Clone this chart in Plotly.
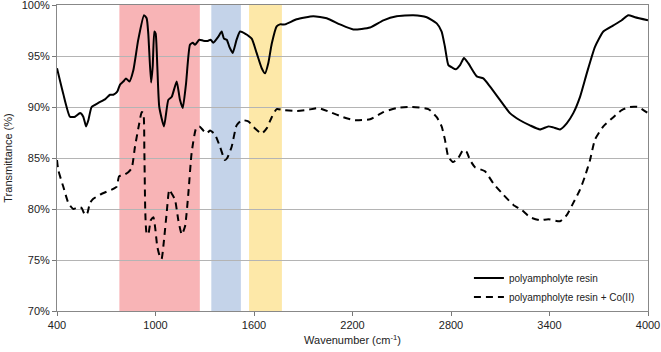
import plotly.graph_objects as go

# ---- data ----
wn_resin = [400, 438, 479, 510, 540, 560, 577, 591, 611, 652, 692, 723, 743, 767, 784, 804, 820, 841, 865, 895,
            930, 946, 956, 973, 983, 993, 1001, 1011, 1023, 1052, 1078, 1099, 1129, 1149, 1166, 1186, 1210, 1227,
            1241, 1267, 1291, 1322, 1336, 1352, 1383, 1403, 1417, 1434, 1450, 1470, 1494, 1515, 1545, 1586, 1616,
            1647, 1667, 1687, 1708, 1738, 1758, 1789, 1860, 1961, 2043, 2124, 2205, 2307, 2388, 2469, 2570, 2652,
            2713, 2743, 2763, 2784, 2804, 2830, 2855, 2879, 2905, 2957, 2997, 3038, 3098, 3159, 3220, 3281, 3342,
            3393, 3423, 3464, 3505, 3545, 3586, 3627, 3677, 3728, 3789, 3840, 3880, 3921, 4000]
t_resin = [93.8, 91.3, 89.05, 89.05, 89.4, 89.05, 88.1, 88.7, 90.0, 90.4, 90.75, 91.2, 91.2, 91.5, 92.2, 92.5, 92.8,
           92.5, 93.6, 96.6, 99.0, 98.7, 97.2, 92.4, 94.0, 97.4, 97.2, 94.0, 90.0, 88.1, 90.7, 91.0, 92.5, 90.7,
           89.9, 92.3, 96.1, 96.3, 96.1, 96.6, 96.5, 96.5, 96.6, 96.3, 96.9, 97.4, 96.7, 96.6, 95.9, 95.3, 96.6,
           97.4, 97.2, 96.7, 95.3, 93.8, 93.3, 94.3, 96.2, 97.9, 98.1, 98.1, 98.6, 98.9, 98.7, 98.1, 97.6, 97.8,
           98.5, 98.9, 99.0, 98.8, 98.2, 97.4, 95.9, 94.1, 93.9, 93.7, 94.1, 94.8, 94.3, 93.0, 92.8, 92.0, 90.7,
           89.4, 88.7, 88.2, 87.8, 88.1, 88.0, 87.8, 88.4, 89.4, 91.0, 93.3, 95.9, 97.4, 98.0, 98.5, 99.0, 98.8,
           98.5]

wn_co = [400, 408, 438, 469, 499, 530, 550, 571, 585, 601, 621, 662, 703, 733, 764, 778, 804, 834, 855, 875, 901,
         916, 926, 932, 938, 946, 956, 971, 987, 997, 1011, 1027, 1037, 1052, 1068, 1084, 1099, 1119, 1139, 1160,
         1180, 1200, 1220, 1247, 1267, 1291, 1312, 1332, 1362, 1393, 1423, 1437, 1464, 1494, 1525, 1565, 1606,
         1647, 1677, 1708, 1738, 1778, 1860, 1921, 1992, 2063, 2144, 2215, 2307, 2388, 2469, 2561, 2662, 2713,
         2743, 2763, 2784, 2814, 2844, 2875, 2895, 2916, 2946, 3007, 3058, 3119, 3180, 3231, 3281, 3342, 3393,
         3464, 3505, 3545, 3586, 3616, 3647, 3677, 3728, 3789, 3840, 3890, 3941, 4000]
t_co = [84.8, 83.8, 82.2, 80.6, 80.0, 80.2, 80.1, 79.4, 79.6, 80.6, 81.0, 81.4, 81.7, 81.9, 82.2, 83.2, 83.3, 83.6,
        84.0, 86.1, 88.4, 89.5, 89.4, 85.8, 79.6, 77.6, 77.5, 78.9, 79.2, 78.3, 76.3, 75.3, 75.1, 77.0, 79.6, 81.9,
        81.5, 80.9, 78.9, 77.5, 78.3, 81.5, 85.5, 87.9, 88.1, 87.7, 87.4, 87.7, 87.3, 86.1, 84.8, 85.0, 86.1, 88.2,
        88.7, 88.6, 87.9, 87.4, 87.9, 89.0, 89.8, 89.7, 89.6, 89.7, 89.9, 89.5, 89.0, 88.7, 88.8, 89.5, 89.9, 90.0,
        89.8, 89.0, 88.1, 86.8, 85.1, 84.6, 85.0, 85.8, 85.6, 84.8, 84.1, 83.7, 82.5, 81.4, 80.4, 79.9, 79.2, 78.9,
        79.0, 78.8, 79.4, 80.6, 81.9, 83.2, 84.8, 86.8, 88.1, 89.0, 89.7, 90.0, 90.0, 89.4]

series_names = ["polyampholyte resin", "polyampholyte resin + Co(II)"]
band_ranges = [(780, 1270), (1340, 1520), (1570, 1770)]
x_ticks = [400, 1000, 1600, 2200, 2800, 3400, 4000]
y_ticks = [70, 75, 80, 85, 90, 95, 100]
y_tick_labels = [f"{v}%" for v in y_ticks]

# ---- figure ----
band_colors = ["rgb(248,180,182)", "rgb(196,211,233)", "rgb(253,232,168)"]

fig = go.Figure()
for (x0, x1), c in zip(band_ranges, band_colors):
    fig.add_vrect(x0=x0, x1=x1, fillcolor=c, opacity=1, line_width=0, layer="below")

fig.add_trace(go.Scatter(x=wn_resin, y=t_resin, mode="lines", name=series_names[0],
                         line=dict(color="black", width=2, shape="spline", smoothing=0.5)))
fig.add_trace(go.Scatter(x=wn_co, y=t_co, mode="lines", name=series_names[1],
                         line=dict(color="black", width=2, dash="7px,5px", shape="spline", smoothing=0.5)))

fig.update_layout(
    width=661, height=352,
    margin=dict(l=57, r=13, t=5, b=41, autoexpand=False),
    paper_bgcolor="white", plot_bgcolor="white",
    font=dict(family="Liberation Sans, Arial, sans-serif", size=11, color="#222"),
    showlegend=True,
    legend=dict(x=0.697, y=0.155, xanchor="left", yanchor="top", bgcolor="rgba(0,0,0,0)",
                font=dict(size=10, color="#222"), tracegroupgap=0, itemwidth=30),
)
fig.update_xaxes(range=[400, 4000], tickvals=x_ticks, ticks="outside", ticklen=4, tickcolor="#777",
                 showline=True, linecolor="#888", linewidth=1, mirror=True, showgrid=False, zeroline=False,
                 automargin=False, ticklabeloverflow="allow",
                 title=dict(text="Wavenumber (cm<sup>-1</sup>)", standoff=6, font=dict(size=11)))
fig.update_yaxes(range=[70, 100], tickvals=y_ticks, ticktext=y_tick_labels, ticks="outside", ticklen=4,
                 tickcolor="#777", showline=True, linecolor="#888", linewidth=1, mirror=True, showgrid=True,
                 gridcolor="#b4b4b4", gridwidth=1, zeroline=False, automargin=False, ticklabeloverflow="allow",
                 title=dict(text="Transmittance (%)", standoff=6, font=dict(size=11)))

fig.write_html("out.html", config={"displayModeBar": False},
               post_script="document.body.style.margin='0';document.body.style.overflow='hidden';")
